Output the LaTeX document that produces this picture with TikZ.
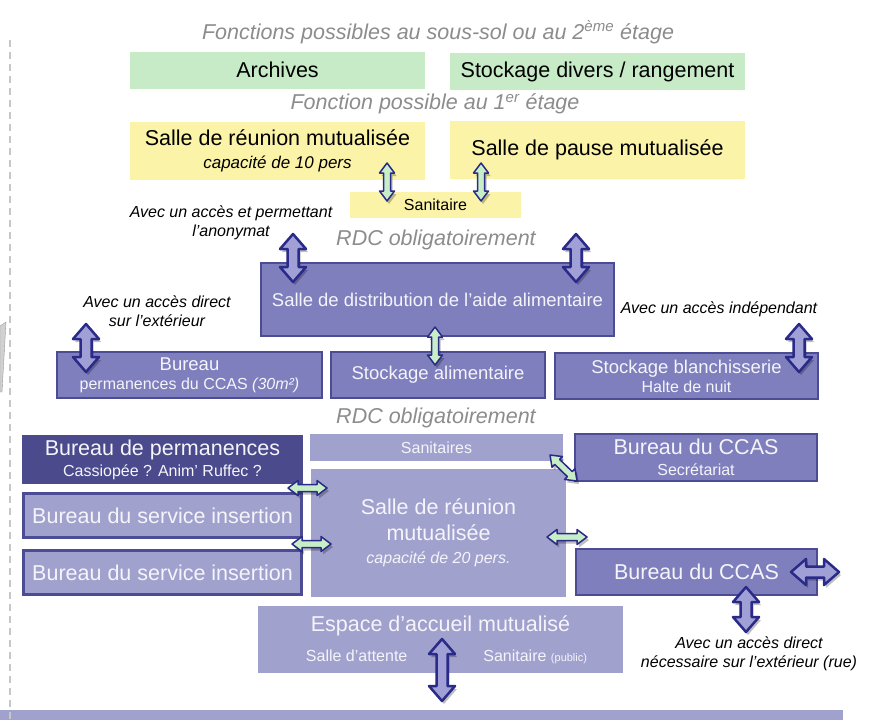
\documentclass[tikz,border=0pt]{standalone}
\usepackage{fontspec}
\setmainfont{Liberation Sans}
\usetikzlibrary{calc}

\definecolor{boxgreen}{HTML}{C6EBC6}
\definecolor{boxyellow}{HTML}{FBF3A8}
\definecolor{boxpurple}{HTML}{7F7FBD}
\definecolor{boxlight}{HTML}{A1A1CE}
\definecolor{boxdark}{HTML}{4A4A8C}
\definecolor{edgepurple}{HTML}{4C4C94}
\definecolor{arrowblue}{HTML}{2A2A88}
\definecolor{arrowfill}{HTML}{A0A0D6}
\definecolor{arrowgreen}{HTML}{C8EEC8}
\definecolor{titlegray}{HTML}{8C8C8C}
\definecolor{textwhite}{HTML}{F4F4FA}

\newcommand\fbig{\fontsize{21.5}{25}\selectfont}
\newcommand\fmid{\fontsize{18.5}{21}\selectfont}
\newcommand\fsmall{\fontsize{16}{19}\selectfont}

\tikzset{
  box/.style={inner sep=0pt, align=center, minimum height=48},
  greenbox/.style={box, fill=boxgreen, minimum width=295, minimum height=37, font=\fbig},
  yellowbox/.style={box, fill=boxyellow, font=\fbig},
  purplebox/.style={box, fill=boxpurple, draw=edgepurple, line width=2pt, text=textwhite},
  lightbox/.style={box, fill=boxlight, text=textwhite},
  darkbox/.style={box, fill=boxdark, text=textwhite},
  insbox/.style={box, fill=boxlight, draw=edgepurple, line width=3pt, text=textwhite},
  title/.style={text=titlegray, font=\fbig\itshape},
  note/.style={font=\fsmall\itshape, align=center},
  bigarrow/.style={draw=arrowblue, fill=arrowfill, line width=2.5pt, line join=round},
  smallarrow/.style={draw=arrowblue, fill=arrowgreen, line width=1.5pt, line join=round},
}

% double-headed block arrow: style, shaft, head, head length, from, to
\newcommand\blockarrow[6]{%
  \path let \p1=($(#6)-(#5)$) in \pgfextra{%
    \pgfmathsetmacro\tmpang{atan2(\y1,\x1)}\global\let\arrang\tmpang
    \pgfmathsetmacro\tmplen{veclen(\x1,\y1)}\global\let\arrlen\tmplen};
  \path[#1, shift={(#5)}, rotate=\arrang,
    preaction={fill=black, opacity=.25, draw=none, transform canvas={xshift=2pt,yshift=-3pt}}]
    (0,0) -- (#4,#3) -- (#4,#2) -- ({\arrlen-#4},#2) -- ({\arrlen-#4},#3) -- (\arrlen,0)
    -- ({\arrlen-#4},-#3) -- ({\arrlen-#4},-#2) -- (#4,-#2) -- (#4,-#3) -- cycle;
}
\newcommand\bigarr[2]{\blockarrow{bigarrow}{5.5}{13}{15}{#1}{#2}}
\newcommand\smallarr[2]{\blockarrow{smallarrow}{3.5}{7.5}{10}{#1}{#2}}

\begin{document}
\begin{tikzpicture}[x=1pt,y=-1pt]
\useasboundingbox (0,0) rectangle (874,720);

% left margin
\fill[black!18, draw=black!40] (0,326) -- (6,322) -- (2,392) -- (0,392) -- cycle;
\fill[boxlight] (0,710) rectangle (843,720);
\draw[black!22, line width=1.5pt, dash pattern=on 7pt off 5pt] (10,40) -- (10,720);

% sous-sol / 2eme etage
\node[title] (t1) at (438,32) {Fonctions possibles au sous-sol ou au 2\textsuperscript{ème} étage};
\node[greenbox] (archives) at (277.5,70) {Archives};
\node[greenbox] (divers) at (597.5,71.5) {Stockage divers / rangement};

% 1er etage
\node[title] (t2) at (435,104) {Fonction possible au 1\textsuperscript{er} étage};
\node[yellowbox, minimum width=295, minimum height=58] (reu10) at (277.5,151)
  {Salle de réunion mutualisée\\[-2pt]{\fontsize{17}{19}\selectfont\itshape capacité de 10 pers}};
\node[yellowbox, minimum width=295, minimum height=58] (pause) at (597.5,150) {Salle de pause mutualisée};
\node[box, fill=boxyellow, minimum width=171, minimum height=26, font=\fsmall] (sanit) at (435.5,205) {Sanitaire};

% RDC
\node[note] (n1) at (231,223) {Avec un accès et permettant\\l’anonymat};
\node[title] (t3) at (436,240) {RDC obligatoirement};
\node[purplebox, minimum width=353, minimum height=73, font=\fmid] (distrib) at (437.5,299.5)
  {Salle de distribution de l’aide alimentaire};
\node[note] (n2) at (157,311) {Avec un accès direct\\sur l’extérieur};
\node[note] (n3) at (719,309) {Avec un accès indépendant};

\node[purplebox, minimum width=265, minimum height=46, font=\fmid] (bureau) at (189.5,375)
  {Bureau\\[-2pt]{\fsmall permanences du CCAS \textit{(30m²)}}};
\node[purplebox, minimum width=214, minimum height=46, font=\fmid] (stockal) at (438,375) {Stockage alimentaire};
\node[purplebox, minimum width=263, minimum height=46, font=\fmid] (blanch) at (686.5,376)
  {Stockage blanchisserie\\[-2pt]{\fsmall Halte de nuit}};

% RDC bis
\node[title] (t4) at (436,418) {RDC obligatoirement};
\node[darkbox, minimum width=281, minimum height=49, font=\fbig] (perm) at (162.5,459.5)
  {Bureau de permanences\\[-4pt]{\fsmall Cassiopée ? Anim’ Ruffec ?}};
\node[lightbox, minimum width=253, minimum height=27, font=\fsmall] (sanits) at (436.5,447.5) {Sanitaires};
\node[purplebox, minimum width=242, minimum height=47, font=\fbig] (ccas1) at (696,457.5)
  {Bureau du CCAS\\[-4pt]{\fsmall Secrétariat}};
\node[insbox, minimum width=278, minimum height=44, font=\fbig] (ins1) at (162.5,515.5) {Bureau du service insertion};
\node[lightbox, minimum width=255, minimum height=128, font=\fbig] (reu20) at (438.5,533)
  {Salle de réunion\\[1pt]mutualisée\\[-2pt]{\fsmall\itshape capacité de 20 pers.}};
\node[insbox, minimum width=278, minimum height=44, font=\fbig] (ins2) at (162.5,572.5) {Bureau du service insertion};
\node[purplebox, minimum width=241, minimum height=46, font=\fbig] (ccas2) at (696.5,572) {Bureau du CCAS};

\node[lightbox, minimum width=365, minimum height=67, font=\fbig] (accueil) at (440.5,639.5)
  {Espace d’accueil mutualisé\\[5pt]{\fsmall\hspace*{12pt}Salle d’attente\hspace{76pt}Sanitaire {\fontsize{11}{12}\selectfont(public)}}};
\node[note] (n4) at (749,654) {Avec un accès direct\\nécessaire sur l’extérieur (rue)};

% arrow ends
\coordinate (s1a) at (387,163); \coordinate (s1b) at (387,201);
\coordinate (s2a) at (481,163); \coordinate (s2b) at (481,201);
\coordinate (s3a) at (435,327); \coordinate (s3b) at (435,365);
\coordinate (s4a) at (288,488); \coordinate (s4b) at (327,488);
\coordinate (s5a) at (292,544); \coordinate (s5b) at (331,544);
\coordinate (s6a) at (547,537); \coordinate (s6b) at (587,537);
\coordinate (s7a) at (550,455); \coordinate (s7b) at (577,481);
\coordinate (b1a) at (293,234); \coordinate (b1b) at (293,282);
\coordinate (b2a) at (576,234); \coordinate (b2b) at (576,282);
\coordinate (b3a) at (86,324);  \coordinate (b3b) at (86,372);
\coordinate (b4a) at (799,324); \coordinate (b4b) at (799,372);
\coordinate (b5a) at (791,572); \coordinate (b5b) at (839,572);
\coordinate (b6a) at (746,587); \coordinate (b6b) at (746,632);
\coordinate (b7a) at (442,639); \coordinate (b7b) at (442,701);

\smallarr{s1a}{s1b}
\smallarr{s2a}{s2b}
\smallarr{s3a}{s3b}
\smallarr{s4a}{s4b}
\smallarr{s5a}{s5b}
\smallarr{s6a}{s6b}
\smallarr{s7a}{s7b}
\bigarr{b1a}{b1b}
\bigarr{b2a}{b2b}
\bigarr{b3a}{b3b}
\bigarr{b4a}{b4b}
\bigarr{b5a}{b5b}
\bigarr{b6a}{b6b}
\bigarr{b7a}{b7b}

\end{tikzpicture}
\end{document}
